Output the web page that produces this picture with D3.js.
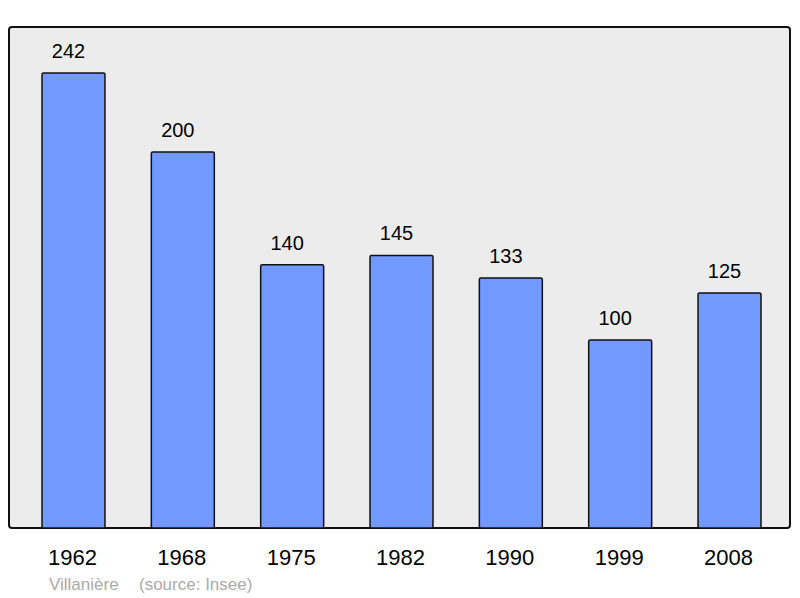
<!DOCTYPE html>
<html>
<head>
<meta charset="utf-8">
<script src="https://cdn.jsdelivr.net/npm/d3@7"></script>
<style>
  body { margin: 0; background: #fff; }
  svg { display: block; font-family: "Liberation Sans", Arial, sans-serif; }
</style>
</head>
<body>
<svg id="chart" width="800" height="598"></svg>
<script>
const years = ["1962", "1968", "1975", "1982", "1990", "1999", "2008"];
const population = [242, 200, 140, 145, 133, 100, 125];
const commune = "Villanière";
const source = "(source: Insee)";

const svg = d3.select("#chart");

const x = d3.scaleBand()
    .domain(years)
    .range([42, 761])
    .paddingInner(0.424)
    .paddingOuter(0);

const y = d3.scaleLinear()
    .domain([0, 266.5])
    .range([528, 27]);

// panel
svg.append("rect")
    .attr("x", 9)
    .attr("y", 27)
    .attr("width", 781)
    .attr("height", 501)
    .attr("rx", 3)
    .attr("fill", "#ececec")
    .attr("stroke", "#111")
    .attr("stroke-width", 2);

const data = years.map((d, i) => ({year: d, value: population[i]}));

// bars
svg.append("g")
    .selectAll("rect")
    .data(data)
    .join("rect")
    .attr("x", d => x(d.year))
    .attr("y", d => y(d.value))
    .attr("width", x.bandwidth())
    .attr("height", d => y(0) - y(d.value))
    .attr("rx", 1.5)
    .attr("fill", "#7199ff")
    .attr("stroke", "#111")
    .attr("stroke-width", 1.5);

// value labels (sit slightly left of the bar centre, as in the original)
svg.append("g")
    .attr("font-size", 20)
    .attr("text-anchor", "middle")
    .attr("fill", "#000")
    .selectAll("text")
    .data(data)
    .join("text")
    .attr("x", d => x(d.year) + x.bandwidth() / 2 - 5)
    .attr("y", d => y(d.value) - 15)
    .text(d => d.value);

// year labels
svg.append("g")
    .attr("font-size", 22)
    .attr("text-anchor", "middle")
    .attr("fill", "#000")
    .selectAll("text")
    .data(years)
    .join("text")
    .attr("x", d => x(d) + x.bandwidth() / 2 - 1)
    .attr("y", 565)
    .text(d => d);

// footer
svg.append("text")
    .attr("x", 49)
    .attr("y", 590)
    .attr("font-size", 17)
    .attr("fill", "#aaa")
    .text(commune);

svg.append("text")
    .attr("x", 139)
    .attr("y", 590)
    .attr("font-size", 17)
    .attr("fill", "#aaa")
    .text(source);
</script>
</body>
</html>
